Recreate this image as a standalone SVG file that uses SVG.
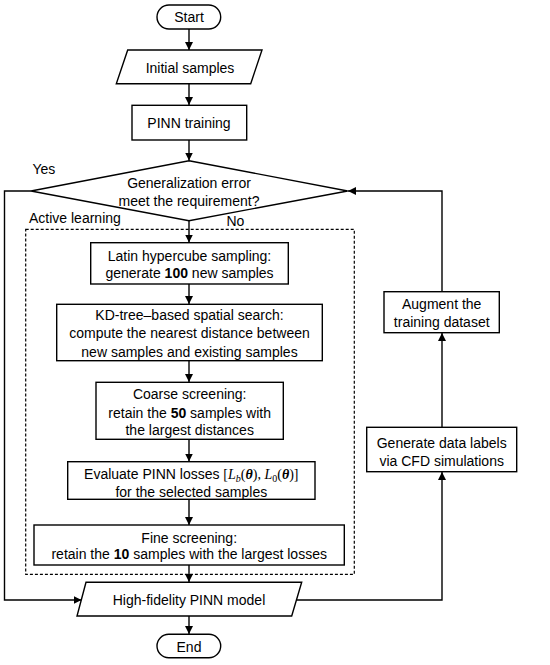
<svg xmlns="http://www.w3.org/2000/svg" width="550" height="665" viewBox="0 0 550 665">
<defs>
<marker id="arr" markerUnits="userSpaceOnUse" markerWidth="10" markerHeight="10" refX="8" refY="4" orient="auto">
<path d="M0,0 L8,4 L0,8 Z" fill="#000"/>
</marker>
<style>
.s{fill:#fff;stroke:#000;stroke-width:1.4}
.t{font-family:"Liberation Sans",Arial,sans-serif;font-size:14px;fill:#000;text-anchor:middle}
.l{font-family:"Liberation Sans",Arial,sans-serif;font-size:14px;fill:#000}
.c{fill:none;stroke:#000;stroke-width:1.4;marker-end:url(#arr)}
.m{font-family:"Liberation Serif","Times New Roman",serif}
</style>
</defs>
<rect width="550" height="665" fill="#fff"/>
<g id="active-learning">
<rect x="25.7" y="229.3" width="328.6" height="345" fill="none" stroke="#000" stroke-width="1.2" stroke-dasharray="3,2"/>
<text class="l" x="29" y="223">Active learning</text>
</g>
<g id="connectors">
<line class="c" x1="189" y1="29" x2="189" y2="50"/>
<line class="c" x1="189" y1="84" x2="189" y2="105"/>
<line class="c" x1="189" y1="140" x2="189" y2="160.5"/>
<line class="c" x1="189" y1="221" x2="189" y2="242.5"/>
<line class="c" x1="189" y1="284" x2="189" y2="304"/>
<line class="c" x1="189" y1="361" x2="189" y2="382"/>
<line class="c" x1="189" y1="439.5" x2="189" y2="461.5"/>
<line class="c" x1="189" y1="499.5" x2="189" y2="525"/>
<line class="c" x1="189" y1="565" x2="189" y2="582"/>
<line class="c" x1="189" y1="616" x2="189" y2="634"/>
<polyline class="c" points="31,191 4.5,191 4.5,600 81.5,600"/>
<polyline class="c" points="296.5,600 442,600 442,472"/>
<line class="c" x1="442" y1="427.3" x2="442" y2="333"/>
<polyline class="c" points="442,291.7 442,191 348,191"/>
<text class="l" x="32.5" y="174">Yes</text>
<text class="l" x="226.5" y="226">No</text>
</g>
<g id="start">
<rect class="s" x="157" y="5" width="63.7" height="24" rx="12"/>
<text class="t" x="189" y="22">Start</text>
</g>
<g id="initial-samples">
<polygon class="s" points="127.7,50 262,50 250.7,83.7 116.3,83.7"/>
<text class="t" x="190" y="73">Initial samples</text>
</g>
<g id="pinn-training">
<rect class="s" x="132" y="105.3" width="114.7" height="34.7"/>
<text class="t" x="189" y="128">PINN training</text>
</g>
<g id="decision">
<polygon class="s" points="189,160.7 347.7,191 189,220.7 31,191"/>
<text class="t" x="189" y="188">Generalization error</text>
<text class="t" x="189" y="205.5">meet the requirement?</text>
</g>
<g id="lhs">
<rect class="s" x="90.7" y="242.7" width="197.6" height="41.3"/>
<text class="t" x="189.5" y="260.5">Latin hypercube sampling:</text>
<text class="t" x="189.5" y="278">generate <tspan font-weight="bold">100</tspan> new samples</text>
</g>
<g id="kdtree">
<rect class="s" x="56.7" y="304.3" width="265.6" height="56.4"/>
<text class="t" x="189.5" y="320">KD-tree–based spatial search:</text>
<text class="t" x="189.5" y="338.3">compute the nearest distance between</text>
<text class="t" x="189.5" y="356.5">new samples and existing samples</text>
</g>
<g id="coarse">
<rect class="s" x="96" y="382.3" width="187.3" height="57"/>
<text class="t" x="189.7" y="399.3">Coarse screening:</text>
<text class="t" x="189.7" y="417.5">retain the <tspan font-weight="bold">50</tspan> samples with</text>
<text class="t" x="189.7" y="435">the largest distances</text>
</g>
<g id="evaluate">
<rect class="s" x="67.7" y="461.7" width="247.3" height="37.6"/>
<text class="t" x="191.3" y="479">Evaluate PINN losses <tspan class="m">[<tspan font-style="italic">L</tspan><tspan font-style="italic" font-size="10" dy="3">b</tspan><tspan dy="-3">(</tspan><tspan font-weight="bold" font-style="italic">θ</tspan>), <tspan font-style="italic">L</tspan><tspan font-size="10" dy="3">0</tspan><tspan dy="-3">(</tspan><tspan font-weight="bold" font-style="italic">θ</tspan>)]</tspan></text>
<text class="t" x="191.3" y="497">for the selected samples</text>
</g>
<g id="fine">
<rect class="s" x="34" y="525" width="310.3" height="40"/>
<text class="t" x="189.2" y="542.5">Fine screening:</text>
<text class="t" x="189.2" y="559">retain the <tspan font-weight="bold">10</tspan> samples with the largest losses</text>
</g>
<g id="high-fidelity">
<polygon class="s" points="86,582.3 301.7,582.3 291.7,616 77,616"/>
<text class="t" x="189" y="605">High-fidelity PINN model</text>
</g>
<g id="end">
<rect class="s" x="157" y="634.3" width="63.7" height="23.4" rx="11.7"/>
<text class="t" x="189" y="651.5">End</text>
</g>
<g id="generate">
<rect class="s" x="366.7" y="427.3" width="150" height="44.4"/>
<text class="t" x="441.7" y="447.5">Generate data labels</text>
<text class="t" x="441.7" y="466">via CFD simulations</text>
</g>
<g id="augment">
<rect class="s" x="384" y="291.7" width="115.3" height="41"/>
<text class="t" x="441.7" y="309.3">Augment the</text>
<text class="t" x="441.7" y="327">training dataset</text>
</g>
</svg>
